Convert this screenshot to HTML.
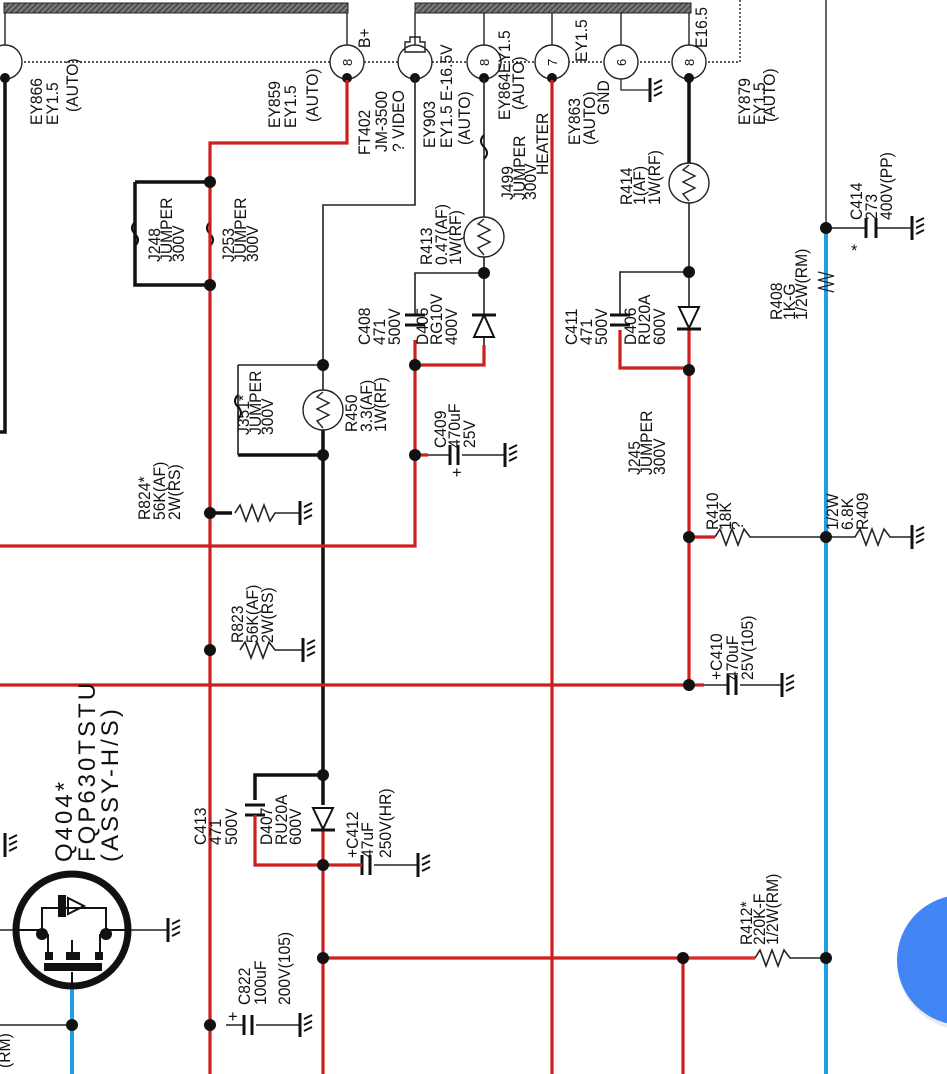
<!DOCTYPE html>
<html><head><meta charset="utf-8"><style>
html,body{margin:0;padding:0;background:#fff;}
svg{display:block;}
text{font-family:"Liberation Sans",sans-serif;font-size:16.5px;fill:#111;}
.big{font-size:24px;letter-spacing:3px;}
</style></head><body>
<svg width="947" height="1074" viewBox="0 0 947 1074" xmlns="http://www.w3.org/2000/svg">
<defs>
<pattern id="hatch" width="4" height="4" patternUnits="userSpaceOnUse" patternTransform="rotate(45)">
<rect width="4" height="4" fill="#777"/><line x1="0" y1="0" x2="0" y2="4" stroke="#333" stroke-width="2"/></pattern>
<g id="gnd"><line x1="0" y1="-12" x2="0" y2="12" stroke="#111" stroke-width="3"/><path d="M4,-6 l8,-4 M4,0 l8,-4 M4,6 l8,-4" stroke="#111" stroke-width="2" fill="none"/></g>
</defs>
<rect x="4" y="3" width="344" height="10" fill="url(#hatch)" stroke="#222"/>
<rect x="415" y="3" width="276" height="10" fill="url(#hatch)" stroke="#222"/>
<g stroke="#222" stroke-width="1.4" fill="none">
<line x1="5" y1="13" x2="5" y2="45"/><line x1="347" y1="13" x2="347" y2="45"/><line x1="415" y1="13" x2="415" y2="45"/>
<line x1="484" y1="13" x2="484" y2="45"/><line x1="552" y1="13" x2="552" y2="45"/><line x1="621" y1="13" x2="621" y2="45"/><line x1="689" y1="13" x2="689" y2="45"/>
<path d="M0,62 H740 V0" stroke-dasharray="2,2"/>
<line x1="826" y1="0" x2="826" y2="228"/>
<circle cx="5" cy="62" r="17" fill="#fff"/><circle cx="347" cy="62" r="17" fill="#fff"/><circle cx="415" cy="62" r="17" fill="#fff"/>
<circle cx="484" cy="62" r="17" fill="#fff"/><circle cx="552" cy="62" r="17" fill="#fff"/><circle cx="621" cy="62" r="17" fill="#fff"/><circle cx="689" cy="62" r="17" fill="#fff"/>
<path d="M405,52 v-10 h5 v-5 h10 v5 h5 v10 z"/>
</g>
<g><text transform="translate(352,66) rotate(-90)" style="font-size:13px">8</text>
<text transform="translate(489,66) rotate(-90)" style="font-size:13px">8</text>
<text transform="translate(557,66) rotate(-90)" style="font-size:13px">7</text>
<text transform="translate(626,66) rotate(-90)" style="font-size:13px">6</text>
<text transform="translate(694,66) rotate(-90)" style="font-size:13px">8</text></g>
<g fill="#111"><circle cx="5" cy="78" r="5"/><circle cx="347" cy="78" r="5"/><circle cx="415" cy="78" r="5"/><circle cx="484" cy="78" r="5"/><circle cx="552" cy="78" r="5"/><circle cx="689" cy="78" r="5"/></g>

<g stroke="#111" stroke-width="3.5" fill="none">
<path d="M5,78 V432 H0"/>
<path d="M135,182 H210 M135,182 V285 H210"/>
<path d="M689,78 V165"/>
<path d="M323,430 V805"/>
<path d="M238,455 H323"/>
<path d="M255,800 V775 H323"/>
<line x1="210" y1="513" x2="232" y2="513"/>
</g>
<g stroke="#222" stroke-width="1.6" fill="none">
<path d="M415,78 V205 H323 V390"/>
<path d="M238,365 H323 M238,365 V455"/>
<path d="M484,78 V217 M484,257 V345"/>
<path d="M415,315 V273 H484"/>
<path d="M689,203 V345 M620,315 V272 H689"/>
<polyline points="235,513 240,505 246,521 252,505 258,521 264,505 270,521 275,513 300,513"/>
<polyline points="240,650 245,642 251,658 257,642 263,658 269,642 275,650 303,650"/>
<polyline points="715,537 720,529 726,545 732,529 738,545 744,529 750,537 826,537"/>
<polyline points="826,537 855,537 860,529 866,545 872,529 878,545 884,529 890,537 912,537"/>
<polyline points="755,958 760,950 766,966 772,950 778,966 784,950 790,958 826,958"/>
<path d="M826,228 H866 M876,228 H912"/>
<path d="M704,685 H728 M740,685 H782"/>
<path d="M374,865 H418"/>
<path d="M226,1025 H244 M256,1025 H300"/>
<path d="M0,1025 H72 M0,930 H14 M130,930 H168"/>
<path d="M428,455 H450 M462,455 H505"/>
</g>
<g stroke="#111" stroke-width="3">
<path d="M405,315 H425 M405,325 H425"/><path d="M610,315 H630 M610,325 H630"/><path d="M245,805 H265 M245,815 H265"/>
<path d="M866,218 V238 M876,218 V238"/>
<path d="M450,445 V465 M458,445 V465"/><path d="M728,675 V695 M736,675 V695"/><path d="M362,855 V875 M370,855 V875"/><path d="M244,1015 V1035 M252,1015 V1035"/>
</g>
<use href="#gnd" x="300" y="513"/><use href="#gnd" x="303" y="650"/><use href="#gnd" x="505" y="455"/><use href="#gnd" x="912" y="228"/><use href="#gnd" x="912" y="537"/><use href="#gnd" x="782" y="685"/><use href="#gnd" x="418" y="865"/><use href="#gnd" x="300" y="1025"/><use href="#gnd" x="168" y="930"/><use href="#gnd" x="650" y="90"/><use href="#gnd" x="5" y="845"/>
<path d="M621,79 V90 H650" stroke="#222" fill="none" stroke-width="1.3"/>
<g stroke="#111" stroke-width="2" fill="none">
<path d="M135,222 q-6,6 0,12 q6,6 0,12"/><path d="M210,222 q-6,6 0,12 q6,6 0,12"/><path d="M238,395 q-6,6 0,12 q6,6 0,12"/><path d="M484,135 q-6,6 0,12 q6,6 0,12"/>
</g>
<g stroke="#222" stroke-width="1.4" fill="#fff">
<circle cx="484" cy="237" r="20"/><circle cx="689" cy="183" r="20"/><circle cx="323" cy="410" r="20"/>
</g>
<g stroke="#222" stroke-width="1.4" fill="none">
<polyline points="484,219 478,224 490,230 478,236 490,242 478,248 484,255"/>
<polyline points="689,165 683,170 695,176 683,182 695,188 683,194 689,201"/>
<polyline points="323,392 317,397 329,403 317,409 329,415 317,421 323,428"/>
</g>
<g stroke="#cc1f1f" stroke-width="3.2" fill="none">
<path d="M347,80 V143 H210 V1074"/>
<path d="M0,546 H415 V340 M415,365 H484 V345"/>
<path d="M415,455 H428"/>
<path d="M0,685 H704"/>
<path d="M552,80 V1074"/>
<path d="M620,330 V368 H689 M689,330 V685"/>
<path d="M689,537 H715"/>
<path d="M255,815 V865 H362 M323,830 V1074"/>
<path d="M323,958 H755 M683,958 V1074"/>
</g>
<path d="M683,958 H755" stroke="#e03030" stroke-width="1.6"/>
<g stroke="#111" stroke-width="2" fill="#fff">
<path d="M484,315 L474,337 L494,337 Z"/><line x1="472" y1="315" x2="496" y2="315" stroke-width="3"/>
<path d="M679,307 L699,307 L689,328 Z"/><line x1="677" y1="329" x2="701" y2="329" stroke-width="3"/>
<path d="M313,808 L333,808 L323,829 Z"/><line x1="311" y1="830" x2="335" y2="830" stroke-width="3"/>
</g>
<path d="M826,228 V1074" stroke="#1ea0e0" stroke-width="4"/>
<path d="M72,988 V1074" stroke="#1ea0e0" stroke-width="4"/>
<polyline points="818,272 834,276 818,280 834,284 818,288 834,292" stroke="#222" stroke-width="1.2" fill="none"/>
<circle cx="72" cy="930" r="56" stroke="#111" stroke-width="7" fill="#fff"/>
<g stroke="#111" stroke-width="2" fill="none">
<path d="M42,934 V908 H106 V934"/><path d="M14,930 H42 M106,930 H130"/>
<path d="M48,934 V955 M72,955 V940 M100,934 V955"/>
<path d="M72,972 V988"/>
</g>
<rect x="44" y="963" width="58" height="8" fill="#111"/>
<rect x="45" y="952" width="8" height="8" fill="#111"/><rect x="66" y="952" width="14" height="8" fill="#111"/><rect x="95" y="952" width="8" height="8" fill="#111"/>
<rect x="58" y="895" width="8" height="22" fill="#111"/><path d="M68,898 L84,906 L68,914 Z" fill="none" stroke="#111" stroke-width="2"/>
<circle cx="42" cy="934" r="6" fill="#111"/><circle cx="106" cy="934" r="6" fill="#111"/>
<g fill="#111">
<circle cx="210" cy="182" r="6"/><circle cx="210" cy="285" r="6"/><circle cx="323" cy="365" r="6"/><circle cx="323" cy="455" r="6"/>
<circle cx="484" cy="273" r="6"/><circle cx="415" cy="365" r="6"/><circle cx="415" cy="455" r="6"/><circle cx="689" cy="272" r="6"/><circle cx="689" cy="370" r="6"/>
<circle cx="210" cy="513" r="6"/><circle cx="210" cy="650" r="6"/><circle cx="689" cy="537" r="6"/><circle cx="826" cy="537" r="6"/><circle cx="689" cy="685" r="6"/>
<circle cx="826" cy="228" r="6"/><circle cx="323" cy="775" r="6"/><circle cx="323" cy="865" r="6"/><circle cx="323" cy="958" r="6"/><circle cx="683" cy="958" r="6"/><circle cx="826" cy="958" r="6"/>
<circle cx="210" cy="1025" r="6"/><circle cx="72" cy="1025" r="6"/>
</g>
<circle cx="965" cy="962" r="68" fill="#d8d8d8" opacity="0.5"/>
<circle cx="962" cy="960" r="65" fill="#4285f4"/>
<g>
<text transform="translate(42,125) rotate(-90) scale(0.95,1)">EY866</text><text transform="translate(58,125) rotate(-90) scale(0.95,1)">EY1.5</text><text transform="translate(78,112) rotate(-90) scale(0.95,1)">(AUTO)</text>
<text transform="translate(280,128) rotate(-90) scale(0.95,1)">EY859</text><text transform="translate(296,128) rotate(-90) scale(0.95,1)">EY1.5</text><text transform="translate(318,122) rotate(-90) scale(0.95,1)">(AUTO)</text>
<text transform="translate(370,48) rotate(-90) scale(0.95,1)">B+</text>
<text transform="translate(370,155) rotate(-90) scale(0.95,1)">FT402</text><text transform="translate(387,152) rotate(-90) scale(0.95,1)">JM-3500</text><text transform="translate(404,152) rotate(-90) scale(0.95,1)">? VIDEO</text>
<text transform="translate(435,148) rotate(-90) scale(0.95,1)">EY903</text><text transform="translate(452,148) rotate(-90) scale(0.95,1)">EY1.5 E-16.5V</text><text transform="translate(470,145) rotate(-90) scale(0.95,1)">(AUTO)</text>
<text transform="translate(510,120) rotate(-90) scale(0.95,1)">EY864EY1.5</text><text transform="translate(524,110) rotate(-90) scale(0.95,1)">(AUTO)</text>
<text transform="translate(513,200) rotate(-90) scale(0.95,1)">J499</text><text transform="translate(525,200) rotate(-90) scale(0.95,1)">JUMPER</text><text transform="translate(536,200) rotate(-90) scale(0.95,1)">300V</text><text transform="translate(548,175) rotate(-90) scale(0.95,1)">HEATER</text>
<text transform="translate(580,145) rotate(-90) scale(0.95,1)">EY863</text><text transform="translate(595,145) rotate(-90) scale(0.95,1)">(AUTO)</text><text transform="translate(609,115) rotate(-90) scale(0.95,1)">GND</text><text transform="translate(587,62) rotate(-90) scale(0.95,1)">EY1.5</text>
<text transform="translate(707,48) rotate(-90) scale(0.95,1)">E16.5</text>
<text transform="translate(750,125) rotate(-90) scale(0.95,1)">EY879</text><text transform="translate(765,125) rotate(-90) scale(0.95,1)">EY1.5</text><text transform="translate(775,122) rotate(-90) scale(0.95,1)">(AUTO)</text>
<text transform="translate(632,205) rotate(-90) scale(0.95,1)">R414</text><text transform="translate(645,205) rotate(-90) scale(0.95,1)">1(AF)</text><text transform="translate(660,205) rotate(-90) scale(0.95,1)">1W(RF)</text>
<text transform="translate(432,265) rotate(-90) scale(0.95,1)">R413</text><text transform="translate(447,265) rotate(-90) scale(0.95,1)">0.47(AF)</text><text transform="translate(461,265) rotate(-90) scale(0.95,1)">1W(RF)</text>
<text transform="translate(370,345) rotate(-90) scale(0.95,1)">C408</text><text transform="translate(385,345) rotate(-90) scale(0.95,1)">471</text><text transform="translate(400,345) rotate(-90) scale(0.95,1)">500V</text>
<text transform="translate(428,345) rotate(-90) scale(0.95,1)">D405</text><text transform="translate(442,345) rotate(-90) scale(0.95,1)">RG10V</text><text transform="translate(457,345) rotate(-90) scale(0.95,1)">400V</text>
<text transform="translate(577,345) rotate(-90) scale(0.95,1)">C411</text><text transform="translate(592,345) rotate(-90) scale(0.95,1)">471</text><text transform="translate(607,345) rotate(-90) scale(0.95,1)">500V</text>
<text transform="translate(636,345) rotate(-90) scale(0.95,1)">D406</text><text transform="translate(650,345) rotate(-90) scale(0.95,1)">RU20A</text><text transform="translate(665,345) rotate(-90) scale(0.95,1)">600V</text>
<text transform="translate(160,262) rotate(-90) scale(0.95,1)">J248</text><text transform="translate(172,262) rotate(-90) scale(0.95,1)">JUMPER</text><text transform="translate(184,262) rotate(-90) scale(0.95,1)">300V</text>
<text transform="translate(234,262) rotate(-90) scale(0.95,1)">J253</text><text transform="translate(246,262) rotate(-90) scale(0.95,1)">JUMPER</text><text transform="translate(258,262) rotate(-90) scale(0.95,1)">300V</text>
<text transform="translate(249,435) rotate(-90) scale(0.95,1)">J351*</text><text transform="translate(261,435) rotate(-90) scale(0.95,1)">JUMPER</text><text transform="translate(273,435) rotate(-90) scale(0.95,1)">300V</text>
<text transform="translate(357,432) rotate(-90) scale(0.95,1)">R450</text><text transform="translate(372,432) rotate(-90) scale(0.95,1)">3.3(AF)</text><text transform="translate(386,432) rotate(-90) scale(0.95,1)">1W(RF)</text>
<text transform="translate(446,448) rotate(-90) scale(0.95,1)">C409</text><text transform="translate(460,448) rotate(-90) scale(0.95,1)">470uF</text><text transform="translate(475,448) rotate(-90) scale(0.95,1)">25V</text>
<text x="452" y="478">+</text>
<text transform="translate(150,520) rotate(-90) scale(0.95,1)">R824*</text><text transform="translate(165,520) rotate(-90) scale(0.95,1)">56K(AF)</text><text transform="translate(180,520) rotate(-90) scale(0.95,1)">2W(RS)</text>
<text transform="translate(243,643) rotate(-90) scale(0.95,1)">R823</text><text transform="translate(258,643) rotate(-90) scale(0.95,1)">56K(AF)</text><text transform="translate(273,643) rotate(-90) scale(0.95,1)">2W(RS)</text>
<text transform="translate(640,475) rotate(-90) scale(0.95,1)">J245</text><text transform="translate(652,475) rotate(-90) scale(0.95,1)">JUMPER</text><text transform="translate(665,475) rotate(-90) scale(0.95,1)">300V</text>
<text transform="translate(718,530) rotate(-90) scale(0.95,1)">R410</text><text transform="translate(731,530) rotate(-90) scale(0.95,1)">18K</text><text transform="translate(743,530) rotate(-90) scale(0.95,1)">?</text>
<text transform="translate(838,530) rotate(-90) scale(0.95,1)">1/2W</text><text transform="translate(853,530) rotate(-90) scale(0.95,1)">6.8K</text><text transform="translate(868,530) rotate(-90) scale(0.95,1)">R409</text>
<text transform="translate(782,320) rotate(-90) scale(0.95,1)">R408</text><text transform="translate(795,320) rotate(-90) scale(0.95,1)">1K-G</text><text transform="translate(807,320) rotate(-90) scale(0.95,1)">1/2W(RM)</text>
<text transform="translate(862,220) rotate(-90) scale(0.95,1)">C414</text><text transform="translate(877,220) rotate(-90) scale(0.95,1)">273</text><text transform="translate(892,220) rotate(-90) scale(0.95,1)">400V(PP)</text>
<text x="851" y="256">*</text>
<text transform="translate(722,680) rotate(-90) scale(0.95,1)">+C410</text><text transform="translate(738,680) rotate(-90) scale(0.95,1)">470uF</text><text transform="translate(753,680) rotate(-90) scale(0.95,1)">25V(105)</text>
<text class="big" transform="translate(72,862) rotate(-90)">Q404*</text><text class="big" transform="translate(95,862) rotate(-90)">FQP630TSTU</text><text class="big" transform="translate(118,862) rotate(-90)">(ASSY-H/S)</text>
<text transform="translate(206,845) rotate(-90) scale(0.95,1)">C413</text><text transform="translate(221,845) rotate(-90) scale(0.95,1)">471</text><text transform="translate(237,845) rotate(-90) scale(0.95,1)">500V</text>
<text transform="translate(272,845) rotate(-90) scale(0.95,1)">D407</text><text transform="translate(287,845) rotate(-90) scale(0.95,1)">RU20A</text><text transform="translate(301,845) rotate(-90) scale(0.95,1)">600V</text>
<text transform="translate(358,858) rotate(-90) scale(0.95,1)">+C412</text><text transform="translate(373,858) rotate(-90) scale(0.95,1)">47uF</text><text transform="translate(391,858) rotate(-90) scale(0.95,1)">250V(HR)</text>
<text transform="translate(250,1005) rotate(-90) scale(0.95,1)">C822</text><text transform="translate(266,1005) rotate(-90) scale(0.95,1)">100uF</text><text transform="translate(290,1005) rotate(-90) scale(0.95,1)">200V(105)</text>
<text x="228" y="1022">+</text>
<text transform="translate(752,945) rotate(-90) scale(0.95,1)">R412*</text><text transform="translate(765,945) rotate(-90) scale(0.95,1)">220K-F</text><text transform="translate(778,945) rotate(-90) scale(0.95,1)">1/2W(RM)</text>
<text transform="translate(10,1068) rotate(-90) scale(0.95,1)">(RM)</text>
</g>
</svg>
</body></html>
